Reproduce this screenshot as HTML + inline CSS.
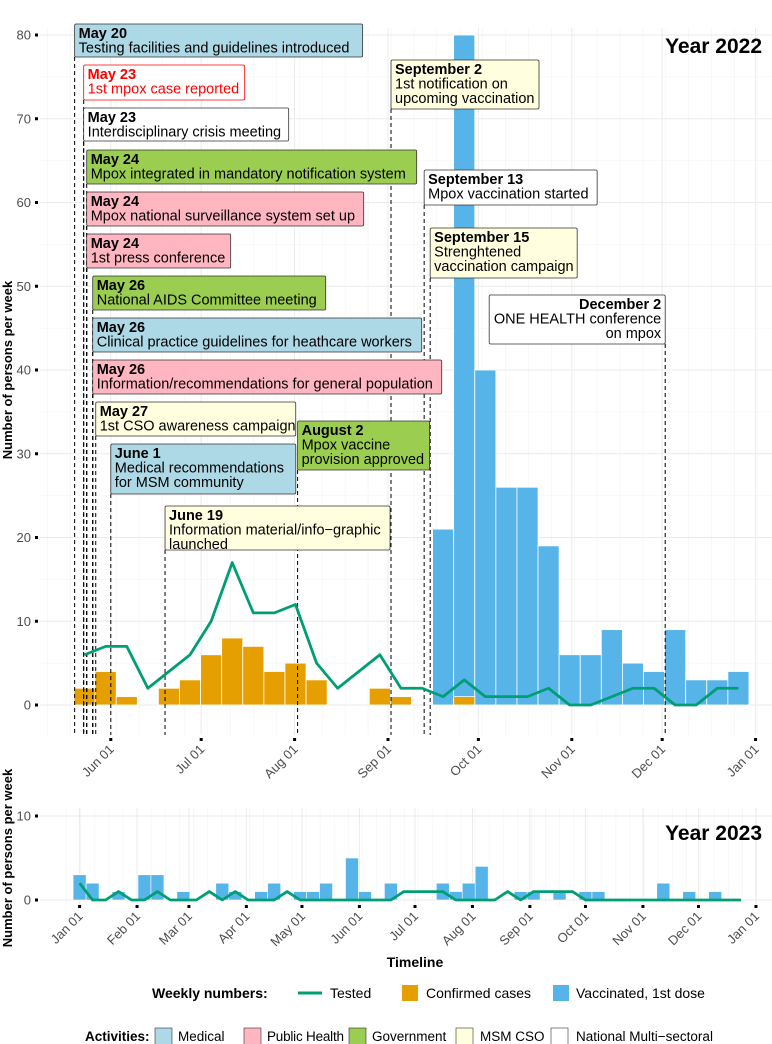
<!DOCTYPE html>
<html><head><meta charset="utf-8"><style>
body{margin:0;background:#fff;}
svg{display:block;font-family:"Liberation Sans",sans-serif;}
</style></head><body>
<svg id="chart" width="772" height="1044" viewBox="0 0 772 1044" xmlns="http://www.w3.org/2000/svg">
<g id="grid1"></g><g id="grid2"></g>
<g id="bars1"></g><g id="bars2"></g>
<g id="vlines"></g><g id="lines"></g><g id="axes"></g><g id="events"></g>
<text x="762" y="53" text-anchor="end" font-size="21" font-weight="bold" font-family="'Liberation Sans Narrow','Liberation Sans',sans-serif">Year 2022</text>
<text x="762" y="840" text-anchor="end" font-size="21" font-weight="bold" font-family="'Liberation Sans Narrow','Liberation Sans',sans-serif">Year 2023</text>
<text transform="translate(12,370) rotate(-90)" text-anchor="middle" font-size="13" font-weight="bold">Number of persons per week</text>
<text transform="translate(12,858) rotate(-90)" text-anchor="middle" font-size="13" font-weight="bold">Number of persons per week</text>
<text x="415" y="967" text-anchor="middle" font-size="14" font-weight="bold">Timeline</text>
<g font-size="14">
<text x="152" y="998" font-weight="bold">Weekly numbers:</text>
<line x1="298" y1="993" x2="322" y2="993" stroke="#009E73" stroke-width="3"/>
<text x="330" y="998">Tested</text>
<rect x="402" y="985" width="16" height="16" fill="#E69F00"/>
<text x="426" y="998">Confirmed cases</text>
<rect x="553" y="985" width="16" height="16" fill="#56B4E9"/>
<text x="576" y="998">Vaccinated, 1st dose</text>
</g>
<g font-size="13.5">
<text x="85" y="1041" font-weight="bold">Activities:</text>
<rect x="155" y="1028" width="17" height="17" fill="#add8e6" stroke="#333" stroke-width="0.6"/><text x="178" y="1041">Medical</text>
<rect x="244" y="1028" width="17" height="17" fill="#ffb6c1" stroke="#333" stroke-width="0.6"/><text x="267" y="1041" textLength="77">Public Health</text>
<rect x="349" y="1028" width="17" height="17" fill="#9acd50" stroke="#333" stroke-width="0.6"/><text x="372" y="1041">Government</text>
<rect x="456" y="1028" width="17" height="17" fill="#ffffe0" stroke="#333" stroke-width="0.6"/><text x="480" y="1041">MSM CSO</text>
<rect x="551" y="1028" width="17" height="17" fill="#ffffff" stroke="#333" stroke-width="0.6"/><text x="576" y="1041">National Multi−sectoral</text>
</g>
</svg>
<script>
// 2022 weekly data (week index k; week 0 centred ~May 23, 2022)
const confirmed2022 = [2,4,1,0,2,3,6,8,7,4,5,3,0,0,2,1,0,0,1,0,0,0,0,0,0,0,0,0,0,0,0,0];
const vaccinated2022 = [0,0,0,0,0,0,0,0,0,0,0,0,0,0,0,0,0,21,80,40,26,26,19,6,6,9,5,4,9,3,3,4];
const tested2022 = [6,7,7,2,4,6,10,17,11,11,12,5,2,4,6,2,2,1,3,1,1,1,2,0,0,1,2,2,0,0,2,2];
const yTicks2022 = [0,10,20,30,40,50,60,70,80];
const monthLabels2022 = ["Jun 01","Jul 01","Aug 01","Sep 01","Oct 01","Nov 01","Dec 01","Jan 01"];
const monthDays2022 = [0,30,61,92,122,153,183,214]; // days after Jun 1, 2022
// 2023 weekly data (week index k; week 0 centred Jan 1, 2023)
const vaccinated2023 = [3,2,0,1,0,3,3,0,1,0,0,2,1,0,1,2,0,1,1,2,0,5,1,0,2,0,0,0,2,1,2,4,0,0,1,1,0,1,0,1,1,0,0,0,0,2,0,1,0,1,0,0];
const tested2023 = [2,0,0,1,0,0,1,0,0,0,1,0,1,0,0,0,1,0,0,0,0,0,0,0,0,1,1,1,1,0,0,0,0,1,0,1,1,1,1,0,0,0,0,0,0,0,0,0,0,0,0,0];
const yTicks2023 = [0,10];
const monthLabels2023 = ["Jan 01","Feb 01","Mar 01","Apr 01","May 01","Jun 01","Jul 01","Aug 01","Sep 01","Oct 01","Nov 01","Dec 01","Jan 01"];
const monthDays2023 = [0,31,59,90,120,151,181,212,243,273,304,334,365];
// events: day offset from Jun 1, 2022
const eventDays = [-12,-9,-9,-8,-8,-8,-6,-6,-6,-5,0,18,62,93,104,106,184];

const NS="http://www.w3.org/2000/svg";
function el(tag,attrs,parent){const e=document.createElementNS(NS,tag);for(const k in attrs)e.setAttribute(k,attrs[k]);parent.appendChild(e);return e;}
const x1=d=>110.8+d*3.013;
const y1=v=>705-v*8.375;
const wk1=k=>-8.7+7*k;
const x2=d=>79.6+d*1.853;
const y2=v=>900-v*8.4;
const P1={l:40,r:772,t:28,b:735}, P2={l:40,r:772,t:808,b:906};

const g1=document.getElementById('grid1'), g2=document.getElementById('grid2');
for(let d=-21; d<220; d+=7.6){el('line',{x1:x1(d),x2:x1(d),y1:P1.t,y2:P1.b,stroke:'#f3f3f3','stroke-width':0.6},g1);}
monthDays2022.forEach(d=>el('line',{x1:x1(d),x2:x1(d),y1:P1.t,y2:P1.b,stroke:'#ebebeb','stroke-width':1},g1));
for(let v=5; v<=80; v+=10) el('line',{x1:P1.l,x2:P1.r,y1:y1(v),y2:y1(v),stroke:'#f3f3f3','stroke-width':0.6},g1);
yTicks2022.forEach(v=>el('line',{x1:P1.l,x2:P1.r,y1:y1(v),y2:y1(v),stroke:'#ebebeb','stroke-width':1},g1));
for(let d=-7; d<370; d+=7.6){el('line',{x1:x2(d),x2:x2(d),y1:P2.t,y2:P2.b,stroke:'#f3f3f3','stroke-width':0.6},g2);}
monthDays2023.forEach(d=>el('line',{x1:x2(d),x2:x2(d),y1:P2.t,y2:P2.b,stroke:'#ebebeb','stroke-width':1},g2));
yTicks2023.forEach(v=>el('line',{x1:P2.l,x2:P2.r,y1:y2(v),y2:y2(v),stroke:'#ebebeb','stroke-width':1},g2));

const b1=document.getElementById('bars1');
const bw1=7*3.013;
vaccinated2022.forEach((v,k)=>{if(!v)return;const c=x1(wk1(k));
 const r=el('rect',{x:c-bw1/2,y:y1(v),width:bw1,height:y1(0)-y1(v),fill:'#56B4E9',stroke:'#fff','stroke-width':0.8},b1);
 
 });
confirmed2022.forEach((v,k)=>{if(!v)return;const c=x1(wk1(k));
 const r=el('rect',{x:c-bw1/2,y:y1(v),width:bw1,height:y1(0)-y1(v),fill:'#E69F00',stroke:'#fff','stroke-width':0.8},b1);
 
 });
const b2=document.getElementById('bars2');
const bw2=7*1.853;
vaccinated2023.forEach((v,k)=>{if(!v)return;const c=x2(7*k);
 const r=el('rect',{x:c-bw2/2,y:y2(v),width:bw2,height:y2(0)-y2(v),fill:'#56B4E9',stroke:'#fff','stroke-width':0.6},b2);
 
 });

const L=document.getElementById('lines');
const pl1=el('polyline',{points:tested2022.map((v,k)=>x1(wk1(k))+','+y1(v)).join(' '),fill:'none',stroke:'#009E73','stroke-width':2.8,'stroke-linejoin':'round'},L);


const pl2=el('polyline',{points:tested2023.map((v,k)=>x2(7*k)+','+y2(v)).join(' '),fill:'none',stroke:'#009E73','stroke-width':2.8,'stroke-linejoin':'round'},L);



const A=document.getElementById('axes');
yTicks2022.forEach(v=>{const t=el('text',{x:31,y:y1(v)+4.5,'text-anchor':'end','font-size':13,fill:'#4d4d4d'},A);t.textContent=v;
 
 
 el('rect',{x:35,y:y1(v)-1.5,width:3,height:3,fill:'#000'},A);});
yTicks2023.forEach(v=>{const t=el('text',{x:31,y:y2(v)+4.5,'text-anchor':'end','font-size':13,fill:'#4d4d4d'},A);t.textContent=v;
 
 
 el('rect',{x:35,y:y2(v)-1.5,width:3,height:3,fill:'#000'},A);});
monthDays2022.forEach((d,i)=>{const x=x1(d);el('rect',{x:x-1.5,y:738,width:3,height:3,fill:'#000'},A);
 const t=el('text',{transform:`translate(${x+4},${750}) rotate(-45)`,'text-anchor':'end','font-size':13,fill:'#4d4d4d'},A);t.textContent=monthLabels2022[i];
 
 });
monthDays2023.forEach((d,i)=>{const x=x2(d);el('rect',{x:x-1.5,y:905,width:3,height:3,fill:'#000'},A);
 const t=el('text',{transform:`translate(${x+4},${917}) rotate(-45)`,'text-anchor':'end','font-size':13,fill:'#4d4d4d'},A);t.textContent=monthLabels2023[i];
 
 });

const BLUE='#add8e6',PINK='#ffb6c1',GREEN='#9acd50',CREAM='#ffffe0',WHITE='#ffffff';
const boxes=[
 {y:24,h:33,w:288,fill:BLUE,lines:["May 20","Testing facilities and guidelines introduced"]},
 {y:65,h:35,w:161,fill:WHITE,lines:["May 23","1st mpox case reported"],red:true},
 {y:108,h:33,w:205,fill:WHITE,lines:["May 23","Interdisciplinary crisis meeting"]},
 {y:150,h:34,w:330,fill:GREEN,lines:["May 24","Mpox integrated in mandatory notification system"]},
 {y:192,h:34,w:277,fill:PINK,lines:["May 24","Mpox national surveillance system set up"]},
 {y:234,h:34,w:144,fill:PINK,lines:["May 24","1st press conference"]},
 {y:276,h:34,w:233,fill:GREEN,lines:["May 26","National AIDS Committee meeting"]},
 {y:318,h:34,w:329,fill:BLUE,lines:["May 26","Clinical practice guidelines for heathcare workers"]},
 {y:360,h:34,w:349,fill:PINK,lines:["May 26","Information/recommendations for general population"]},
 {y:402,h:34,w:200,fill:CREAM,lines:["May 27","1st CSO awareness campaign"]},
 {y:444,h:50,w:185,fill:BLUE,lines:["June 1","Medical recommendations","for MSM community"]},
 {y:506,h:44,w:225,fill:CREAM,lines:["June 19","Information material/info−graphic","launched"]},
 {y:421,h:49,w:132,fill:GREEN,lines:["August 2","Mpox vaccine","provision approved"]},
 {y:60,h:49,w:148,fill:CREAM,lines:["September 2","1st notification on","upcoming vaccination"]},
 {y:170,h:35,w:173,fill:WHITE,lines:["September 13","Mpox vaccination started"]},
 {y:228,h:50,w:147,fill:CREAM,lines:["September 15","Strenghtened","vaccination campaign"]},
 {y:295,h:49,w:176,fill:WHITE,lines:["December 2","ONE HEALTH conference","on mpox"],right:true}
];
const V=document.getElementById('vlines'), E=document.getElementById('events');
eventDays.forEach((d,i)=>{
 const b=boxes[i]; const x=x1(d);
 const ln=el('line',{x1:x,x2:x,y1:b.y+b.h,y2:735,stroke:'#000','stroke-width':1,'stroke-dasharray':'4,3'},V);
 
 
 const gx=b.right? x-b.w : x;
 const g=el('g',{},E);
 
 
 el('rect',{x:gx,y:b.y,width:b.w,height:b.h,fill:b.fill,stroke:b.red?'#ff0000':'#333','stroke-width':0.8,rx:1.5},g);
 b.lines.forEach((s,j)=>{
  const t=el('text',{x:b.right?x-4:gx+4,y:b.y+14+j*14.5,'font-size':14.5,'text-anchor':b.right?'end':'start',fill:b.red?'#ff0000':'#000','font-weight':j===0?'bold':'normal'},g);
  t.textContent=s;});
});
</script>
</body></html>
